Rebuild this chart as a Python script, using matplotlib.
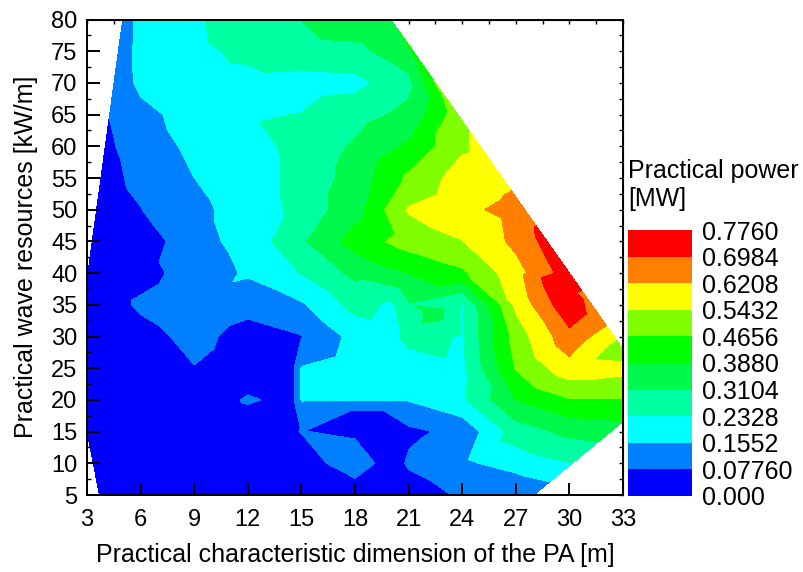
import numpy as np
import matplotlib
matplotlib.use("Agg")
import matplotlib.pyplot as plt
import matplotlib.tri as mtri
from matplotlib.ticker import MultipleLocator

plt.rcParams['font.family'] = ['Liberation Sans', 'DejaVu Sans']

# grid of sampled cases: characteristic dimension (m) x wave resource (kW/m)
dims = [3, 6, 9, 12, 15, 18, 21, 24, 27, 30, 33]
resources = [80, 75, 70, 65, 60, 55, 50, 45, 40, 35, 30, 25, 20, 15, 10, 5]
nan = np.nan
power = [
    [nan, 0.178, 0.22, 0.28, 0.312, 0.36, nan, nan, nan, nan, nan],
    [nan, 0.18, 0.215, 0.25, 0.28, 0.29, 0.36, nan, nan, nan, nan],
    [nan, 0.175, 0.20, 0.21, 0.20, 0.21, 0.29, nan, nan, nan, nan],
    [nan, 0.13, 0.19, 0.225, 0.235, 0.28, 0.33, nan, nan, nan, nan],
    [nan, 0.12, 0.17, 0.20, 0.26, 0.32, 0.40, 0.53, nan, nan, nan],
    [nan, 0.10, 0.155, 0.19, 0.26, 0.34, 0.48, 0.58, nan, nan, nan],
    [nan, 0.075, 0.14, 0.18, 0.26, 0.36, 0.55, 0.60, 0.65, nan, nan],
    [nan, 0.03, 0.13, 0.18, 0.30, 0.42, 0.50, 0.54, 0.64, nan, nan],
    [nan, 0.05, 0.11, 0.165, 0.237, 0.33, 0.39, 0.45, 0.59, nan, nan],
    [0.02, 0.09, 0.13, 0.10, 0.145, 0.26, 0.30, 0.225, 0.56, 0.76, nan],
    [0.02, 0.05, 0.10, 0.05, 0.075, 0.18, 0.27, 0.225, 0.50, 0.675, nan],
    [0.02, 0.04, 0.075, 0.04, 0.16, 0.20, 0.17, 0.215, 0.47, 0.59, 0.57],
    [0.02, 0.03, 0.03, 0.085, 0.16, 0.16, 0.16, 0.22, 0.39, 0.46, 0.46],
    [0.02, 0.03, 0.02, 0.03, 0.08, 0.065, 0.06, 0.10, 0.27, 0.33, nan],
    [nan, 0.02, 0.02, 0.075, 0.04, 0.12, 0.09, 0.14, 0.19, 0.23, nan],
    [nan, 0.02, 0.02, 0.03, 0.03, 0.03, 0.03, 0.09, 0.075, nan, nan],
]

# extra cases on the border of the sampled domain
edge_dim = [5.0, 4.512, 4.024, 3.537, 3.0, 3.7, 28.0, 33.0, 33.0, 32.0, 31.0, 30.0,
            28.5, 27.0, 24.0, 20.0]
edge_res = [80, 70, 60, 50, 39, 5, 5, 16.6, 28, 32, 36, 40, 46, 52, 64, 80]
edge_pow = [0.12, 0.10, 0.06, 0.03, 0.02, 0.02, 0.10, 0.385, 0.49, 0.63, 0.68, 0.74,
            0.72, 0.63, 0.53, 0.37]

# extra interior cases
mid_dim = [14.5, 14.5, 19.0, 20.1, 20.0, 20.0, 22.5, 29.0]
mid_res = [25, 20, 17.5, 10, 35, 30, 34, 39]
mid_pow = [0.06, 0.06, 0.04, 0.04, 0.22, 0.20, 0.35, 0.74]

levels = [0.0, 0.0776, 0.1552, 0.2328, 0.3104, 0.388, 0.4656, 0.5432, 0.6208, 0.6984, 0.776]
level_labels = ['0.000', '0.07760', '0.1552', '0.2328', '0.3104', '0.3880',
                '0.4656', '0.5432', '0.6208', '0.6984', '0.7760']
colors = ['#0000FF', '#0080FF', '#00FFFF', '#00FFA0', '#00F84A',
          '#00FF00', '#80FF00', '#FFFF00', '#FF8000', '#FF0000']

X, Y = np.meshgrid(dims, resources)
Z = np.array(power)
ok = ~np.isnan(Z)
x = np.concatenate([X[ok], edge_dim, mid_dim])
y = np.concatenate([Y[ok], edge_res, mid_res])
z = np.concatenate([Z[ok], edge_pow, mid_pow])

tri = mtri.Triangulation(x, y)

fig = plt.figure(figsize=(8.04, 5.72), dpi=100)
ax = fig.add_axes([0.1082, 0.1346, 0.6667, 0.8313])
cs = ax.tricontourf(tri, z, levels=levels, colors=colors)

ax.set_xlim(3, 33)
ax.set_ylim(5, 80)
ax.set_xticks(range(3, 34, 3))
ax.set_yticks(range(5, 81, 5))
ax.yaxis.set_minor_locator(MultipleLocator(2.5))
ax.tick_params(which='major', direction='in', length=9, width=1.4, labelsize=17, pad=7)
ax.tick_params(axis='x', pad=10)
ax.tick_params(which='minor', direction='in', length=3, width=1.0)
for s in ax.spines.values():
    s.set_linewidth(1.4)
ax.set_axisbelow(False)

top = ax.secondary_xaxis('top')
top.set_xticks(np.arange(3, 33.1, 1.5))
top.tick_params(direction='in', length=3, width=1.0, labeltop=False)
right = ax.secondary_yaxis('right')
right.set_yticks(np.arange(5, 80.1, 2.5))
right.tick_params(direction='in', length=3, width=1.0, labelright=False)

ax.set_xlabel('Practical characteristic dimension of the PA [m]', fontsize=18, labelpad=9)
ax.set_ylabel('Practical wave resources [kW/m]', fontsize=18, labelpad=9)

cax = fig.add_axes([0.7811, 0.1329, 0.0796, 0.465])
cb = fig.colorbar(cs, cax=cax, ticks=levels)
cb.outline.set_visible(False)
cb.ax.set_yticklabels(level_labels)
cb.ax.tick_params(length=0, labelsize=18, pad=7)
fig.text(0.781, 0.722, 'Practical power\n[MW]', fontsize=18, va='top', ha='left', linespacing=1.2)

fig.savefig('out.png', dpi=100)
